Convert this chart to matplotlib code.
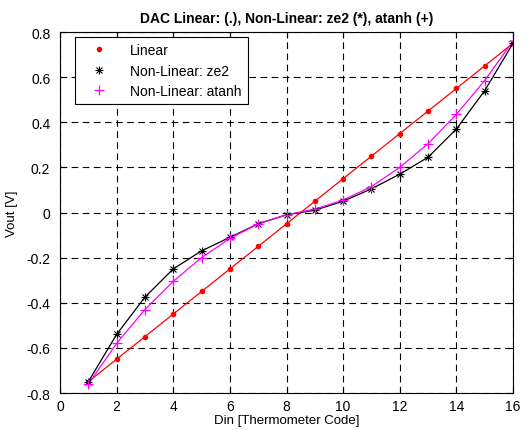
import numpy as np
import matplotlib
matplotlib.use('Agg')
import matplotlib.pyplot as plt
from matplotlib.legend_handler import HandlerTuple

plt.rcParams['font.family'] = ['Liberation Sans', 'DejaVu Sans']

din = [1, 2, 3, 4, 5, 6, 7, 8, 9, 10, 11, 12, 13, 14, 15, 16]
v_linear = [-0.75, -0.65, -0.55, -0.45, -0.35, -0.25, -0.15, -0.05,
            0.05, 0.15, 0.25, 0.35, 0.45, 0.55, 0.65, 0.75]
v_ze2 = [-0.75, -0.54, -0.375, -0.25, -0.17, -0.11, -0.05, -0.01,
         0.01, 0.05, 0.105, 0.17, 0.245, 0.37, 0.54, 0.75]
v_atanh = [-0.76, -0.58, -0.43, -0.305, -0.2, -0.115, -0.05, -0.01,
           0.015, 0.055, 0.115, 0.2, 0.305, 0.435, 0.585, 0.76]

fig = plt.figure(figsize=(5.32, 4.31), dpi=100)
ax = fig.add_axes([0.1128, 0.0858, 0.8515, 0.8376])

ax.plot(din, v_linear, color='red', lw=0.9)
ax.plot(din, v_ze2, color='black', lw=0.9)
ax.plot(din, v_atanh, color='magenta', lw=0.9)
l1, = ax.plot(din, v_linear, 'o', color='red', ms=4, mew=0)
# matlab '*' marker = '+' and 'x' on top of each other
l2a, = ax.plot(din, v_ze2, '+', color='black', ms=6, mew=0.8)
l2b, = ax.plot(din, v_ze2, 'x', color='black', ms=5, mew=0.8)
l3, = ax.plot(din, v_atanh, '+', color='magenta', ms=7, mew=0.9)

ax.set_xlim(0, 16)
ax.set_ylim(-0.8, 0.8)
ax.set_xticks(np.arange(0, 17, 2))
ax.set_yticks(np.arange(-0.8, 0.81, 0.2))
ax.set_yticklabels(['-0.8', '-0.6', '-0.4', '-0.2', '0', '0.2', '0.4', '0.6', '0.8'])
ax.grid(True, color='black', linestyle=(0, (6, 4)), lw=0.8)
ax.tick_params(direction='in', top=True, right=True, labelsize=10, length=4)
ax.tick_params(axis='y', pad=7)
ax.tick_params(axis='x', pad=4)
for s in ax.spines.values():
    s.set_linewidth(0.8)

ax.set_xlabel('Din [Thermometer Code]', fontsize=9.5, labelpad=1)
ax.set_ylabel('Vout [V]', fontsize=9.5, labelpad=6)
ax.set_title('DAC Linear: (.), Non-Linear: ze2 (*), atanh (+)',
             fontsize=10, fontweight='bold', pad=7)

leg = ax.legend([l1, (l2a, l2b), l3],
                ['Linear', 'Non-Linear: ze2', 'Non-Linear: atanh'],
                handler_map={tuple: HandlerTuple(ndivide=1, pad=0)},
                loc='upper left',
                bbox_to_anchor=(15 / 453, 1 - 5 / 361), borderaxespad=0,
                fontsize=10, fancybox=False, edgecolor='black', framealpha=1,
                handlelength=2.6, borderpad=0.45, labelspacing=0.45,
                handletextpad=0.9)
leg.get_frame().set_linewidth(0.8)

fig.savefig('out.png', dpi=100)
